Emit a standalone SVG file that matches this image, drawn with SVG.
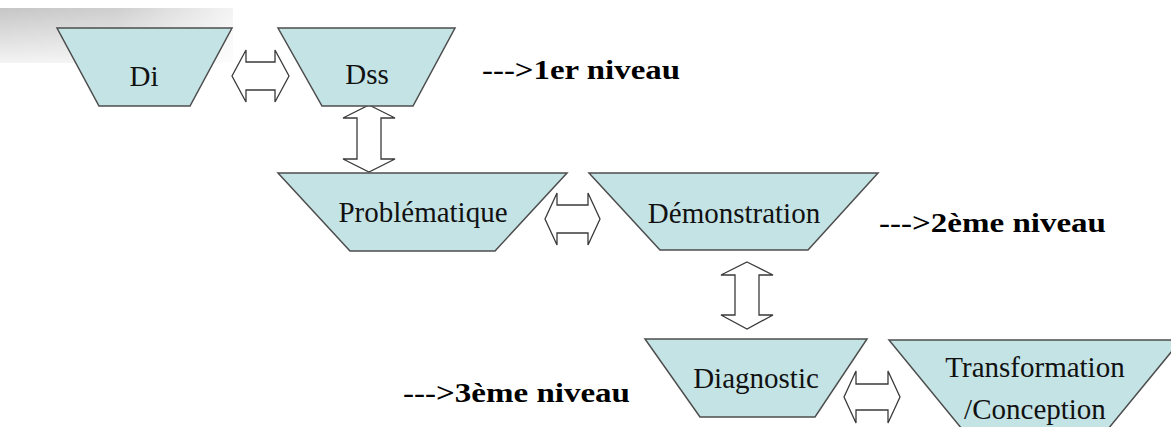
<svg xmlns="http://www.w3.org/2000/svg" width="1171" height="427" viewBox="0 0 1171 427">
<style>
.node{fill:#c4e3e5;stroke:#4d4d4d;stroke-width:1.5;stroke-linejoin:miter}
.lbl{font-family:'Liberation Serif','Times New Roman','DejaVu Serif',serif;font-size:29px;fill:#111;text-anchor:middle}
.lvl{font-family:'Liberation Serif','Times New Roman','DejaVu Serif',serif;font-size:28px;font-weight:bold;fill:#000}
.arr{fill:#fff;stroke:#3a3a3a;stroke-width:1.3;stroke-linejoin:miter}
</style>
<defs>
<linearGradient id="gv" x1="0" y1="0" x2="0" y2="1">
<stop offset="0" stop-color="#c6c6c6"/>
<stop offset="1" stop-color="#f4f4f4"/>
</linearGradient>
<linearGradient id="gh" x1="0" y1="0" x2="1" y2="0">
<stop offset="0" stop-color="#fff" stop-opacity="0"/>
<stop offset="0.5" stop-color="#fff" stop-opacity="0.15"/>
<stop offset="1" stop-color="#fff" stop-opacity="0.8"/>
</linearGradient>
</defs>
<rect x="0" y="0" width="1171" height="427" fill="#fff"/>
<g id="banner">
<rect x="0" y="8" width="233" height="55" fill="url(#gv)"/>
<rect x="0" y="8" width="233" height="55" fill="url(#gh)"/>
</g>
<g id="connectors">
<path class="arr" d="M232,76 L246,50 L246,62 L275,62 L275,50 L289,76 L275,102 L275,90 L246,90 L246,102 Z"/>
<path class="arr" d="M369,105 L395,118 L381,118 L381,159 L395,159 L369,172 L343,159 L357,159 L357,118 L343,118 Z"/>
<path class="arr" d="M545,219 L557,193 L557,205 L588,205 L588,193 L600,219 L588,245 L588,233 L557,233 L557,245 Z"/>
<path class="arr" d="M747,262 L773,275 L759,275 L759,315 L773,315 L747,329 L721,315 L735,315 L735,275 L721,275 Z"/>
<path class="arr" d="M844,397 L856,371 L856,384 L888,384 L888,371 L900,397 L888,423 L888,410 L856,410 L856,423 Z"/>
</g>
<g id="node-di">
<polygon class="node" points="57,28 232,28 190,106 99,106"/>
<text class="lbl" x="144" y="86" font-family="'Liberation Serif', serif">Di</text>
</g>
<g id="node-dss">
<polygon class="node" points="278,28 455,28 413,106 322,106"/>
<text class="lbl" x="367" y="84" font-family="'Liberation Serif', serif">Dss</text>
</g>
<g id="node-problematique">
<polygon class="node" points="278,173 567,173 495,251 350,251"/>
<text class="lbl" x="423" y="222" font-family="'Liberation Serif', serif">Problématique</text>
</g>
<g id="node-demonstration">
<polygon class="node" points="589,173 878,173 808,250 660,250"/>
<text class="lbl" x="734" y="223" font-family="'Liberation Serif', serif">Démonstration</text>
</g>
<g id="node-diagnostic">
<polygon class="node" points="645,339 867,339 815,417 700,417"/>
<text class="lbl" x="756" y="388" font-family="'Liberation Serif', serif">Diagnostic</text>
</g>
<g id="node-transformation">
<polygon class="node" points="889,340 1181,340 1099,440 971,440"/>
<text class="lbl" x="1035" y="377" font-family="'Liberation Serif', serif">Transformation</text>
<text class="lbl" x="1035" y="419" font-family="'Liberation Serif', serif">/Conception</text>
</g>
<g id="levels">
<text class="lvl" x="482" y="79" textLength="198" lengthAdjust="spacingAndGlyphs" font-family="'Liberation Serif', serif">---&gt;1er niveau</text>
<text class="lvl" x="879" y="232" textLength="227" lengthAdjust="spacingAndGlyphs" font-family="'Liberation Serif', serif">---&gt;2ème niveau</text>
<text class="lvl" x="403" y="402" textLength="227" lengthAdjust="spacingAndGlyphs" font-family="'Liberation Serif', serif">---&gt;3ème niveau</text>
</g>
</svg>
